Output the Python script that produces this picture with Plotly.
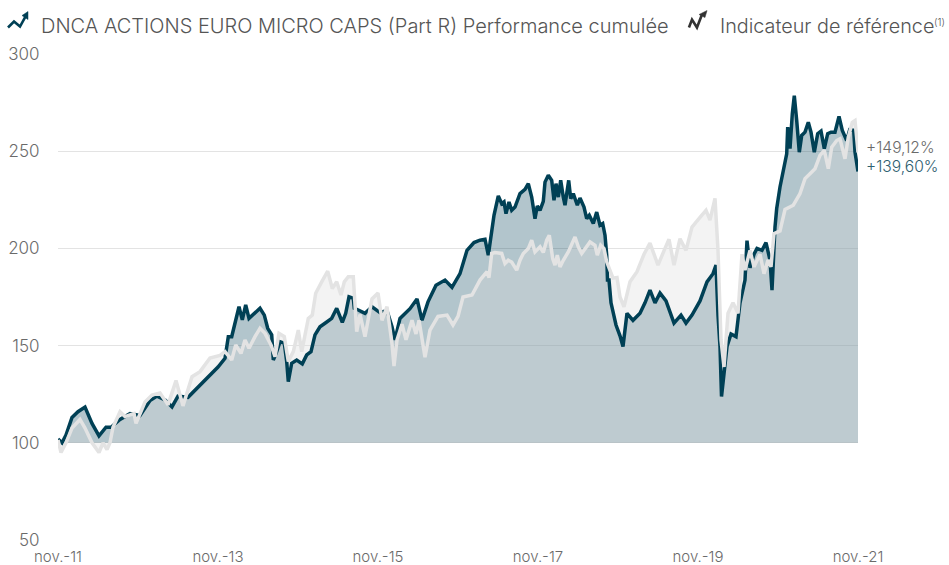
import plotly.graph_objects as go

# Sample index: 0 = nov.-11, 800 = nov.-21 (80 samples per year)
tick_positions = [0, 160, 320, 480, 640, 800]
tick_labels = ["nov.-11", "nov.-13", "nov.-15", "nov.-17", "nov.-19", "nov.-21"]
y_ticks = [50, 100, 150, 200, 250, 300]
series_names = ["DNCA ACTIONS EURO MICRO CAPS (Part R) Performance cumulée", "Indicateur de référence"]
footnote_mark = "(1)"
end_labels = ["+149,12%", "+139,60%"]

fund_points = [(0,102),(4,100),(8,104),(14,113),(20,116),(27,118.4),(34,110),(41,103.6),(48,108),(53,108),(62,112),(72,115),(82,114),(92,121.7),(99,124),(107,122),(114,118.5),(120,124),(130,123.4),(139,128),(152,135),(160,139),(167,143.5),(170.3,154.6),(173.7,154.6),(177.7,164),(181,170),(184.3,163.2),(187.7,170.9),(191,164),(197,166.6),(202,169.2),(206.3,165.7),(209.7,158.9),(213.7,155.5),(215.3,142.6),(218.7,146.9),(222,152),(226.3,151.2),(228.7,141.8),(230.3,131.5),(233.7,140.9),(238.7,142.6),(244.3,140.6),(248.7,145.2),(253,146.9),(257,155.5),(262,159.7),(267,161.5),(273.7,164),(278.7,169.2),(284.3,162),(287.7,166.6),(291,175.1),(295.3,174.3),(296.3,169.2),(300.3,168.3),
    (307,166.6),(314,170),(322,167),(329,168),(334,159.7),(337,153),(342,164),(352,169),(359,174),(364,163),(370,172.5),(378,181),(387,183.7),(394,180),(402,187),(409,199),(416,203),(422,204.2),(427,204.7),(430.3,196.5),(433.7,207.6),(436,217),(440.3,227),(443.7,223),(446,223.9),(448,217.9),(451,223.9),(453.7,219.6),(457,221.3),(462,228.2),(467,230.4),(470.3,233.3),(473.7,226.4),(477,215.3),(479.3,221.8),(482,219.6),(485.3,224.2),(487,234.1),(490.3,237.6),(493.7,235),(496,224.7),(498,233.3),(500.3,226.4),(502.7,235),(505.3,226.4),(507,222.2),(510.7,235),(512.7,225.6),(515.3,228.2),(519.3,222.2),(522,225.9),(526,221.3),(528.7,215.3),(531.3,217),(535.3,212.8),(538.7,218.7),(542,211.9),(544.7,212.8),(547,206.8),(548.7,196.5),(549.5,183.7),(551,183.7),
    (553,172),(558,160.6),(562,155),(565,149.5),(569,166.6),(575,163),(582,166.6),(587,172),(592,178.5),(597,172),(602,177),(608,173),(616,161.6),(623,165.7),(628,161.6),(634,165.7),(642,173),(649,182.8),(655,187),(658,191.4),(660,165.7),(662,149.5),(663.5,123.8),(666,134),(669,149.5),(673,156),(678,154.6),(682,172),(687,183.7),(689,204),(692,190),(696,197),(699,200),(704,199),(708,203),(712,194),(714,178.5),(717,211),(718.7,220.5),(722,231.6),(725.3,240.1),(728.7,248.7),(729.7,262.4),(732,251.3),(734.3,269.2),(736.3,278.6),(738.7,265.8),(741.3,249.5),(743.7,258.1),(747,259.8),(750.3,264.9),(753,259.8),(756.3,249.5),(759.7,259),(763,260.3),(766.3,251.3),(769.7,259),(773,259.8),(777,259.8),(781,267.9),(784.3,260.7),(788.7,255.5),(791.7,261),(795.7,260.7),(797,249.5),(800,239.6)]

bench_points = [(0,101.5),(3,95),(8,100),(14,107.6),(22,112),(27,107.6),(34,100),(41,95),(45,100),(49,96.5),(52,100),(55,108),(62,116),(67,113.5),(76,115),(78,110),(87,121),(94,124.6),(102,125.6),(110,119.5),(118,132),(125,119),(134,134),(142,136.6),(152,143.6),(162,145),(167,146.9),(173.7,142.6),(177.7,150.3),(183,146),(187,152.9),(191,148.6),(197,154.6),(202,158.9),(207,156.3),(213,150.3),(217,144.3),(221,156.3),(226.3,154.6),(230.3,141.8),(235.3,146.9),(240.3,158),(243.7,146.9),(247,156.3),(250.3,164),(254.3,165.7),(257.7,176.9),(263.7,182.8),(269.7,188.3),(274.3,179.4),(278.7,182.8),(283,176),(286.3,182.8),(290.3,185.4),(295.3,185.4),(298.7,157.2),(302,166),
    (307,154.6),(314,174),(320,177),(324,163),(329,170),(334,151),(336,139.5),(339,153),(344,161),(348,153),(354,163),(358,156),(361,163),(365,151),(367,144),(372,158),(380,165),(389,165.7),(395,160.6),(400,165),(405,175),(414,176),(422,183.7),(429,188),(431,185),(433.7,197.4),(437,197.9),(443.7,197.4),(447,192.2),(450.3,193.9),(453.7,193),(458.7,188.8),(462,193.9),(465.3,197.4),(470.3,199.9),(473.7,204.2),(477,198.2),(482,200.8),(485.3,197.9),(488.7,204.2),(491.3,206.8),(494.7,194.8),(497,191.4),(499.3,196.5),(502,190.5),(505.3,193.9),(510.3,198.2),(517,205.9),(520.3,200.8),(523.7,197.4),(528,200.8),(532,203.3),(537,201.6),(539.3,196.5),(542.7,201.6),(546,199.9),(548.7,193.1),(552,188),(555,184.7),(559,185),(562,175),(566,170),(572,182.8),(579,188),(586,197),(592,202.7),(600,191.4),(607,200),(611,204.7),(616,191.4),(622,205),(628,199),(634,211),(642,216),(648,219.6),(652,214.5),(657,225.7),(660,199),(663,153),(666,139),(670,166.6),(675,172),(680,166.6),(684,197),(687,188.8),(692,199),(696,190.5),(702,197),(706,187),(710,194),(713,190.5),(716,207.6),(722,209),(727,220),(735.3,222.2),(742,228.2),(747,235.9),(752,238.4),(757,241),(762,247.8),(766.3,250.4),(770.3,241),(773.7,252.1),(778.7,255.5),(782,256.4),(787,246.1),(790.3,257.2),(794.3,264.9),(797,265.8),(800,249.5)]

fund_t = [p[0] for p in fund_points]
fund_v = [p[1] for p in fund_points]
bench_t = [p[0] for p in bench_points]
bench_v = [p[1] for p in bench_points]

INK = "#6A6A6A"
NAVY = "#004055"
GREY = "#E3E3E3"
FONT = "Inter, sans-serif"
W, H = 949, 565
LEFT, RIGHT, TOP, BOTTOM = 58, 858, 53.5, 540

fig = go.Figure()
def area(t, v, color):
    fig.add_trace(go.Scatter(x=[t[0], t[-1]], y=[100, 100], mode="lines", line=dict(width=0), showlegend=False, hoverinfo="skip"))
    fig.add_trace(go.Scatter(x=t, y=v, mode="lines", line=dict(width=0), fill="tonexty", fillcolor=color, showlegend=False, hoverinfo="skip"))

area(fund_t, fund_v, "rgba(0,64,85,0.3)")
area(bench_t, bench_v, "rgba(217,217,217,0.32)")
fig.add_trace(go.Scatter(x=fund_t, y=fund_v, mode="lines", line=dict(color=NAVY, width=3.5), name="Fonds", showlegend=False))
fig.add_trace(go.Scatter(x=bench_t, y=bench_v, mode="lines", line=dict(color=GREY, width=3.5), name="Indicateur", showlegend=False))

def px(x): return (x - LEFT) / (RIGHT - LEFT)
def py(y): return (BOTTOM - y) / (BOTTOM - TOP)
def path(pts, close=False):
    s = "M " + " L ".join(f"{px(a):.4f} {py(b):.4f}" for a, b in pts)
    return s + (" Z" if close else "")

shapes = []
for col, line, head in [
    (NAVY, [(8, 27), (14, 21), (20, 26), (26, 15)], [(22, 15), (28, 11), (28, 19)]),
    ("#333333", [(689, 27), (692, 19), (697, 27), (702, 14)], [(699, 14), (707, 10), (705, 17)]),
]:
    shapes.append(dict(type="path", xref="paper", yref="paper", path=path(line), line=dict(color=col, width=2.6)))
    shapes.append(dict(type="path", xref="paper", yref="paper", path=path(head, True), line=dict(color=col, width=0.5), fillcolor=col))

def note(x, y, text, color=INK, size=18):
    return dict(xref="paper", yref="paper", x=px(x), y=py(y), text=text, showarrow=False,
                xanchor="left", yanchor="middle", font=dict(family=FONT, size=size, color=color, weight=300),
                borderpad=0)

annotations = [
    note(40, 25, series_names[0], "#555555", 20),
    note(719, 25, series_names[1], "#555555", 19.8),
    note(933, 21, footnote_mark, "#555555", 10),
    note(865, 147, end_labels[0], "#6A6A6A", 15.6),
    note(865, 166, end_labels[1], "#2F6070", 15.6),
]

fig.update_layout(
    template="none",
    width=W, height=H, autosize=False,
    margin=dict(l=LEFT, r=W - RIGHT, t=TOP, b=H - BOTTOM, pad=0),
    paper_bgcolor="white", plot_bgcolor="white",
    shapes=shapes, annotations=annotations, showlegend=False,
    font=dict(family=FONT, color=INK),
    xaxis=dict(range=[0, 800], tickmode="array", tickvals=tick_positions, ticktext=tick_labels, automargin=False,
               showgrid=False, zeroline=False, showline=False, ticks="outside", ticklen=3, tickcolor="rgba(0,0,0,0)",
               tickfont=dict(family=FONT, size=15, color=INK, weight=300)),
    yaxis=dict(range=[50, 300], tickmode="array", tickvals=y_ticks, automargin=False, showgrid=True, gridcolor=GREY, gridwidth=1,
               zeroline=False, showline=False, ticks="outside", ticklen=14, tickcolor="rgba(0,0,0,0)",
               tickfont=dict(family=FONT, size=17, color=INK, weight=300)),
)
fig.write_html("out.html", config=dict(displayModeBar=False),
               post_script="document.body.style.margin='0';document.documentElement.style.overflow='hidden';")
